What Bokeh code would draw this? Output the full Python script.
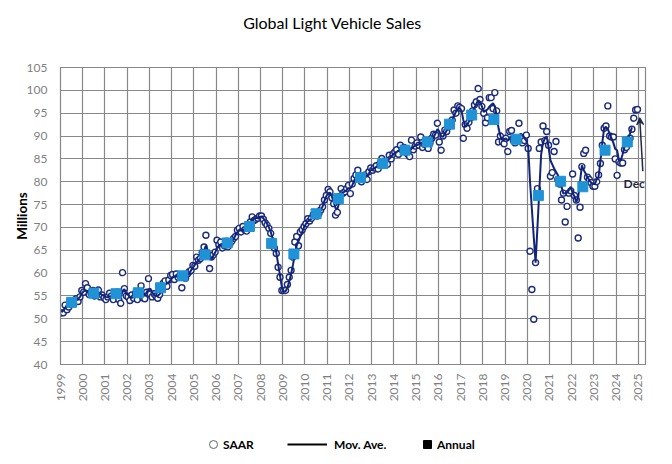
import math
from bokeh.plotting import figure
from bokeh.layouts import column
from bokeh.models import (FixedTicker, Legend, LegendItem, Label, Arrow, VeeHead, Range1d)
from bokeh.embed import file_html
from bokeh.resources import INLINE

# ---------------- data ----------------
years = list(range(1999, 2025))

# monthly SAAR (millions), Jan..Dec per row
saar = [
    51.3, 51.3, 53.0, 52.0, 52.6, 53.2, 53.4, 53.8, 54.4, 53.8, 54.8, 56.2,  # 1999
    55.8, 57.7, 56.8, 55.3, 55.6, 56.2, 55.0, 55.8, 56.3, 54.8, 55.2, 54.6,  # 2000
    54.2, 54.8, 55.6, 55.0, 54.2, 55.4, 55.8, 54.2, 53.4, 60.1, 56.6, 55.0,  # 2001
    54.8, 54.0, 55.2, 54.5, 55.6, 54.2, 55.9, 57.2, 54.6, 54.4, 55.8, 58.8,  # 2002
    55.4, 54.8, 55.5, 55.0, 54.5, 55.3, 56.6, 57.8, 58.3, 57.1, 58.5, 59.5,  # 2003
    59.7, 58.6, 59.8, 59.1, 59.5, 56.8, 59.3, 58.9, 59.8, 60.3, 60.6, 61.7,  # 2004
    61.5, 63.5, 62.8, 63.2, 64.5, 65.7, 68.3, 64.2, 61.0, 63.5, 64.0, 64.6,  # 2005
    67.2, 66.2, 66.8, 65.5, 66.0, 67.0, 65.8, 66.4, 67.0, 67.6, 68.0, 69.4,  # 2006
    69.8, 69.0, 70.2, 69.5, 69.2, 70.6, 71.2, 72.3, 71.5, 71.8, 72.0, 72.5,  # 2007
    72.5, 71.8, 71.0, 70.5, 69.8, 68.7, 67.0, 65.5, 64.3, 61.3, 59.1, 56.2,  # 2008
    56.2, 56.2, 57.5, 59.1, 60.6, 63.5, 66.8, 68.0, 66.0, 69.0, 69.5, 70.2,  # 2009
    70.8, 71.9, 71.4, 72.0, 72.8, 73.2, 72.5, 73.0, 73.8, 74.5, 76.0, 77.0,  # 2010
    78.3, 77.8, 76.5, 75.2, 72.7, 73.3, 76.8, 78.5, 77.5, 77.8, 78.5, 79.2,  # 2011
    77.4, 79.5, 80.7, 81.5, 82.5, 81.0, 80.0, 80.7, 81.5, 80.5, 82.2, 83.0,  # 2012
    82.5, 83.0, 83.5, 82.8, 84.0, 85.1, 84.5, 84.0, 83.8, 85.8, 85.0, 86.0,  # 2013
    86.5, 87.0, 86.0, 88.0, 87.0, 87.5, 86.5, 86.0, 85.5, 89.1, 87.0, 87.8,  # 2014
    88.5, 88.0, 89.8, 87.5, 88.2, 88.0, 87.3, 88.5, 89.5, 90.4, 90.2, 92.8,  # 2015
    88.7, 86.9, 90.0, 91.3, 91.0, 92.0, 92.5, 93.5, 95.7, 95.0, 96.6, 96.3,  # 2016
    96.0, 89.5, 92.5, 91.7, 93.0, 94.0, 95.5, 96.8, 97.5, 100.4, 98.0, 96.5,  # 2017
    95.0, 92.9, 94.0, 98.4, 98.4, 96.0, 99.5, 95.5, 88.7, 90.0, 88.8, 88.3,  # 2018
    89.5, 86.6, 91.0, 91.2, 89.0, 88.5, 89.0, 92.8, 89.5, 88.5, 89.0, 90.2,  # 2019
    87.3, 64.8, 56.4, 49.9, 62.3, 78.5, 87.3, 88.7, 92.2, 89.0, 91.0, 88.0,  # 2020
    81.2, 82.0, 86.6, 88.8, 80.5, 79.5, 76.0, 77.5, 71.2, 74.6, 77.5, 78.0,  # 2021
    81.7, 77.0, 76.0, 67.7, 74.4, 83.3, 86.2, 86.9, 81.0, 80.5, 79.8, 79.0,  # 2022
    79.0, 80.0, 81.5, 84.0, 88.0, 91.7, 92.2, 96.6, 90.0, 89.8, 89.8, 85.0,  # 2023
    81.4, 84.4, 84.1, 84.1, 87.0, 87.5, 88.5, 89.5, 91.5, 93.9, 95.7, 95.8,  # 2024
]

# moving average (millions), Jan..Dec per row
nan = float("nan")
mov_avg = [
    51.4, 51.8, 52.3, 52.7, 53.0, 53.3, 53.6, 53.9, 54.0, 54.3, 54.8, 55.5,  # 1999
    56.0, 56.2, 56.0, 55.8, 55.6, 55.5, 55.4, 55.6, 55.8, 55.5, 55.2, 55.0,  # 2000
    54.8, 54.7, 54.9, 55.0, 54.9, 55.0, 55.0, 54.6, 54.8, 56.0, 56.5, 55.6,  # 2001
    55.2, 54.8, 54.6, 54.8, 54.9, 55.0, 55.4, 56.0, 55.8, 55.2, 55.8, 56.5,  # 2002
    56.6, 55.8, 55.2, 55.1, 55.0, 55.4, 56.0, 56.8, 57.4, 57.8, 58.0, 58.5,  # 2003
    59.0, 59.2, 59.3, 59.2, 58.7, 58.5, 58.5, 59.2, 59.6, 60.0, 60.6, 61.2,  # 2004
    61.8, 62.3, 62.8, 63.3, 64.0, 65.0, 66.0, 65.0, 63.5, 63.0, 63.8, 64.5,  # 2005
    65.5, 66.0, 66.3, 66.2, 66.3, 66.3, 66.4, 66.5, 67.0, 67.5, 68.3, 69.0,  # 2006
    69.3, 69.3, 69.5, 69.6, 69.8, 70.2, 70.8, 71.5, 71.9, 72.0, 72.2, 72.3,  # 2007
    72.4, 72.0, 71.4, 70.8, 70.0, 69.0, 67.7, 66.0, 64.5, 62.0, 59.5, 57.0,  # 2008
    56.0, 56.0, 56.8, 58.2, 59.8, 61.8, 64.0, 66.0, 67.0, 68.0, 69.0, 70.0,  # 2009
    70.8, 71.3, 71.6, 71.9, 72.3, 72.7, 73.0, 73.3, 73.7, 74.6, 75.8, 76.8,  # 2010
    77.5, 77.6, 76.8, 75.5, 74.2, 74.0, 75.5, 77.0, 77.6, 77.9, 78.2, 78.6,  # 2011
    78.5, 79.2, 80.2, 81.0, 81.5, 81.3, 80.8, 80.7, 81.0, 81.3, 81.8, 82.5,  # 2012
    82.7, 83.0, 83.2, 83.5, 84.0, 84.5, 84.5, 84.5, 84.6, 85.0, 85.4, 86.0,  # 2013
    86.3, 86.5, 86.8, 87.0, 87.2, 87.1, 86.8, 86.5, 86.8, 87.2, 87.6, 88.0,  # 2014
    88.0, 88.2, 88.5, 88.5, 88.3, 88.0, 88.0, 88.4, 89.0, 89.8, 90.6, 91.5,  # 2015
    91.0, 90.0, 89.8, 90.5, 91.2, 91.8, 92.5, 93.5, 94.5, 95.3, 96.0, 96.2,  # 2016
    95.5, 93.5, 92.0, 92.3, 93.2, 94.3, 95.3, 96.2, 97.0, 97.8, 97.5, 96.5,  # 2017
    95.3, 95.5, 95.8, 96.4, 96.8, 97.2, 96.5, 94.5, 91.7, 90.0, 89.1, 89.3,  # 2018
    89.5, 89.0, 89.5, 90.0, 89.8, 89.5, 89.5, 90.0, 90.5, 90.2, 89.5, 89.0,  # 2019
    87.6, 80.0, 74.0, 68.0, 62.3, 70.0, 78.0, 86.0, 88.5, 89.5, 89.9, 87.6,  # 2020
    84.7, 83.8, 82.9, 82.2, 81.5, 80.2, 78.9, 77.4, 77.5, 77.6, 78.2, 78.9,  # 2021
    77.5, 76.8, 75.6, 76.6, 80.0, 83.6, 82.5, 81.8, 81.0, 80.3, 79.8, 79.5,  # 2022
    79.5, 80.5, 81.1, 84.5, 88.5, 91.7, 92.0, 91.5, 90.5, 89.5, 88.5, 87.2,  # 2023
    86.9, 84.7, 84.7, 86.0, 87.6, 88.5, 89.5, 90.6, 91.9, nan, nan, nan,      # 2024
]

# annual totals (millions)
annual = [53.6, 55.6, 55.5, 55.7, 56.8, 59.4, 64.0, 66.6, 70.2, 66.5, 64.2, 73.0, 76.3,
          80.9, 84.0, 86.9, 88.7, 92.6, 94.6, 93.6, 89.3, 77.0, 80.1, 78.9, 86.9, 88.7]

x_ticks = list(range(1999, 2026))
x_tick_labels = [str(t) for t in x_ticks]
y_ticks = list(range(40, 106, 5))

title_text = "Global Light Vehicle Sales"
y_label = "Millions"
legend_labels = ["SAAR", "Mov. Ave.", "Annual"]
note_text = "Dec"

# ---------------- derived positions ----------------
month_x = [y + (m + 0.5) / 12 for y in years for m in range(12)]
annual_x = [y + 0.5 for y in years]

NAVY = "#1b2b7a"
LINE_NAVY = "#12237a"
LIGHT_BLUE = "#1f93d5"
GRID = "#888888"
TICK_TEXT = "#7f7f7f"
NOTE = "#1f2a44"
FONT = "Lato"
W = 672
FRAME_L, FRAME_R = 60, 645   # frame edges in page pixels (shared across column)


def blank_fig(height):
    f = figure(width=W, height=height, output_backend="svg", toolbar_location=None,
               x_range=Range1d(FRAME_L, FRAME_R), y_range=Range1d(0, height),
               x_axis_location=None, y_axis_location=None, min_border=0,
               background_fill_color="white", border_fill_color="white")
    f.grid.visible = False
    f.outline_line_color = None
    return f


# ---------------- header (title) ----------------
HEAD_H = 60
head = blank_fig(HEAD_H)
head.add_layout(Label(x=332, y=HEAD_H - 22, text=title_text, text_align="center",
                      text_baseline="middle", text_font=FONT, text_font_size="16px",
                      text_color="black"))

# ---------------- main chart ----------------
MAIN_H = 350
p = figure(width=W, height=MAIN_H, output_backend="svg", toolbar_location=None, title=None,
           x_range=Range1d(1999, 2025.32), y_range=Range1d(40, 105),
           min_border_left=FRAME_L, min_border_right=W - FRAME_R, min_border_top=7,
           min_border_bottom=46,
           background_fill_color="white", border_fill_color="white")

p.scatter(month_x, saar, marker="circle", size=6, fill_color="white",
          line_color=NAVY, line_width=1.4)
p.line(month_x, mov_avg, line_color=LINE_NAVY, line_width=2)
p.scatter(annual_x, annual, marker="square", size=10, fill_color=LIGHT_BLUE,
          line_color=LIGHT_BLUE)

p.add_layout(Label(x=2025.29, y=79.7, text=note_text, text_align="right",
                   text_baseline="middle", text_font=FONT, text_font_style="bold",
                   text_font_size="12px", text_color=NOTE))
p.add_layout(Arrow(end=VeeHead(size=7, line_color=NOTE, fill_color=NOTE, line_width=1.2),
                   x_start=2025.2, y_start=82.3, x_end=2025.06, y_end=94.0,
                   line_color=NOTE, line_width=1.5))

p.xaxis.ticker = FixedTicker(ticks=x_ticks)
p.xaxis.major_label_overrides = {t: l for t, l in zip(x_ticks, x_tick_labels)}
p.xaxis.major_label_orientation = math.pi / 2
p.xaxis.major_label_standoff = 9
p.yaxis.ticker = FixedTicker(ticks=y_ticks)
p.yaxis.major_label_standoff = 13
for ax in (p.xaxis, p.yaxis):
    ax.axis_line_color = GRID
    ax.major_tick_line_color = None
    ax.minor_tick_line_color = None
    ax.major_tick_out = 0
    ax.major_tick_in = 0
    ax.major_label_text_color = TICK_TEXT
    ax.major_label_text_font = FONT
    ax.major_label_text_font_size = "12px"

p.yaxis.axis_label = y_label
p.yaxis.axis_label_text_font = FONT
p.yaxis.axis_label_text_font_style = "bold"
p.yaxis.axis_label_text_font_size = "13.5px"
p.yaxis.axis_label_text_color = "black"
p.yaxis.axis_label_standoff = -6

p.xgrid.grid_line_color = GRID
p.ygrid.grid_line_color = GRID
p.xgrid.grid_line_width = 1.2
p.ygrid.grid_line_width = 1.2
p.outline_line_color = GRID
p.outline_line_width = 1.2

# ---------------- footer (legend) ----------------
FOOT_H = 464 - HEAD_H - MAIN_H
foot = blank_fig(FOOT_H)
leg_c = foot.scatter([nan], [nan], marker="circle", fill_color="white", line_color="#666666", line_width=1)
leg_l = foot.line([nan, nan], [nan, nan], line_color="black", line_width=2)
leg_s = foot.scatter([nan], [nan], marker="square", fill_color="black", line_color="black")


def add_legend(label, renderer, page_x, glyph_w, standoff):
    lg = Legend(items=[LegendItem(label=label, renderers=[renderer])],
                location=(page_x - FRAME_L, FOOT_H - 34 - 10), orientation="horizontal",
                glyph_width=glyph_w, glyph_height=20, label_height=20,
                label_standoff=standoff, padding=0, margin=0, spacing=0,
                border_line_color=None, background_fill_alpha=0,
                label_text_font=FONT, label_text_font_style="bold",
                label_text_font_size="12px", label_text_color="black")
    foot.add_layout(lg, "center")


add_legend(legend_labels[0], leg_c, 203, 20, 0)
add_legend(legend_labels[1], leg_l, 287, 40, 7)
add_legend(legend_labels[2], leg_s, 417, 20, 0)

layout = column(head, p, foot, spacing=0)
open("out.html", "w").write(file_html(layout, INLINE))
